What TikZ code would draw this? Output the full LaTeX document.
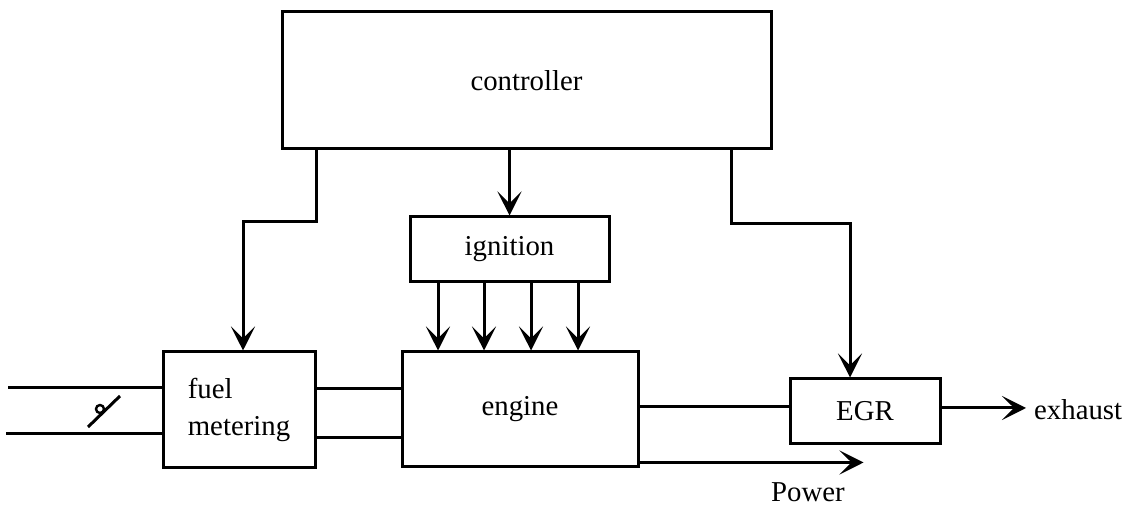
\documentclass[tikz,border=0pt]{standalone}
\usepackage{fontspec}
\setmainfont{Liberation Serif}
\usetikzlibrary{arrows.meta,calc}
\begin{document}
\begin{tikzpicture}[x=0.5pt,y=-0.5pt,line width=1.5pt,
		font=\fontsize{14.4}{18.5}\selectfont,
		>={Stealth[length=12pt,width=12pt,inset=6pt]},
		blk/.style={draw,inner sep=0pt,align=left},
		arr/.style={->}]
				\useasboundingbox (0,0) rectangle (1130,506);
				\node [blk, minimum width=244.5pt, minimum height=68.5pt] (ctrl) at (526.5,80.5) {controller};
				\node [blk, minimum width=99.5pt, minimum height=32.5pt] (ign) at (509.5,249.5) {ignition};
				\node [blk, minimum width=76pt, minimum height=58pt] (fuel) at (239,410) {fuel\\metering};
				\node [blk, minimum width=118pt, minimum height=57.5pt] (eng) at (520,409.5) {engine};
				\node [blk, minimum width=75pt, minimum height=32.5pt] (egr) at (865,411.5) {EGR};
				\node [anchor=west] (exh) at (1026,410) {exhaust};
				\node (pow) at (808,492) {Power};
				\coordinate (in1) at (8,388);
				\coordinate (in2) at (6,434);
				\draw (in1) -- (fuel.west |- in1);
				\draw (in2) -- (fuel.west |- in2);
				\draw (88,427) -- (120,396);
				\draw [line width=1.2pt] (100,409) circle (4);
				\draw (fuel.east |- 0,389) -- (eng.west |- 0,389);
				\draw (fuel.east |- 0,438) -- (eng.west |- 0,438);
				\draw [arr] (fuel.east |- ctrl.south) -- ++(0,71) -| ($(fuel.north)+(4,0)$);
				\draw [arr, line width=1.1pt] (ign.north |- ctrl.south) -- (ign.north);
				\draw [arr] ($(ctrl.south east)+(-41,0)$) -- ++(0,73) -| ($(egr.north)+(-15,0)$);
				\foreach \x in {438,484,531,578}
					\draw [arr] (ign.south -| \x,0) -- (eng.north -| \x,0);
				\draw (eng.east |- 0,407) -- (egr.west |- 0,407);
				\draw [arr] (egr.east |- 0,408) -- (exh.west |- 0,408);
				\draw [arr] ($(eng.south east)+(0,-6)$) -- ++(224,0);
 			\end{tikzpicture}
\end{document}
